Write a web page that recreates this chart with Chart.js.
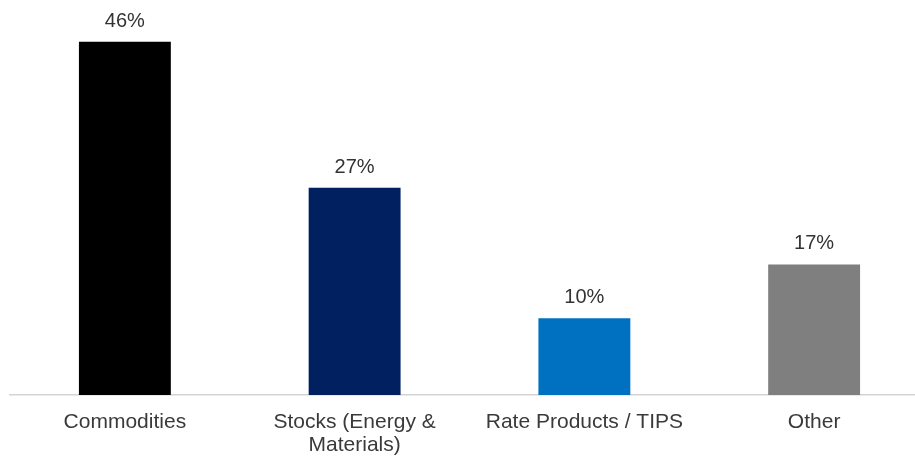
<!DOCTYPE html>
<html>
<head>
<meta charset="utf-8">
<script src="https://cdn.jsdelivr.net/npm/chart.js@4/dist/chart.umd.min.js"></script>
<style>
  html, body { margin: 0; padding: 0; background: #fff; overflow: hidden; }
  #wrap { width: 930px; height: 456px; }
</style>
</head>
<body>
<div id="wrap"><canvas id="chart" width="930" height="456"></canvas></div>
<script>
const categories = ['Commodities', ['Stocks (Energy &', 'Materials)'], 'Rate Products / TIPS', 'Other'];
const shares = [46, 27, 10, 17];
const barColors = ['#000000', '#002060', '#0070c0', '#7f7f7f'];

// draws the "46%" style labels above each bar
const valueLabels = {
    id: 'valueLabels',
    afterDatasetsDraw(chart) {
        const ctx = chart.ctx;
        const meta = chart.getDatasetMeta(0);
        ctx.save();
        ctx.font = '20px "Liberation Sans", Arial, sans-serif';
        ctx.fillStyle = '#333333';
        ctx.textAlign = 'center';
        ctx.textBaseline = 'alphabetic';
        meta.data.forEach((bar, i) => {
            ctx.fillText(shares[i] + '%', bar.x, bar.y - 15);
        });
        ctx.restore();
    }
};

new Chart(document.getElementById('chart').getContext('2d'), {
    type: 'bar',
    data: {
        labels: categories,
        datasets: [{
            data: shares,
            backgroundColor: barColors,
            barPercentage: 0.4,
            categoryPercentage: 1.0
        }]
    },
    options: {
        responsive: false,
        animation: false,
        layout: { padding: { left: 10, right: 1, top: 11, bottom: 0 } },
        plugins: {
            legend: { display: false },
            tooltip: { enabled: false }
        },
        scales: {
            x: {
                grid: { display: false, drawTicks: false },
                border: { display: true, color: '#d4d4d4', width: 1.5 },
                ticks: {
                    color: '#3a3a3a',
                    padding: 16,
                    maxRotation: 0,
                    autoSkip: false,
                    font: { family: '"Liberation Sans", Arial, sans-serif', size: 21, lineHeight: 1.1 }
                },
                afterFit(scale) { scale.height = 61; }
            },
            y: {
                display: false,
                min: 0,
                max: 50
            }
        }
    },
    plugins: [valueLabels]
});
</script>
</body>
</html>
